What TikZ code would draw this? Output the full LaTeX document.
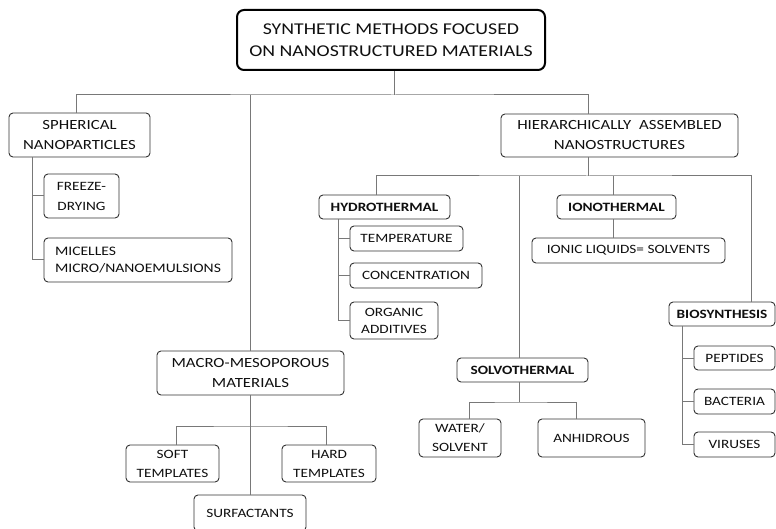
\documentclass[tikz,border=0pt]{standalone}
\usepackage{fontspec}
\setmainfont{Carlito}[FakeStretch=1.2]
\definecolor{linec}{RGB}{120,120,120}
\definecolor{boxc}{RGB}{50,50,50}
\definecolor{txtc}{RGB}{15,15,15}
\begin{document}
\begin{tikzpicture}[x=1pt,y=-1pt,
  box/.style={draw=boxc, line width=0.9pt, rounded corners=4pt, fill=white, inner sep=0pt, text=txtc, align=center},
  topbox/.style={box, draw=black, line width=2pt, rounded corners=7pt, font=\fontsize{16.5}{21.5}\selectfont},
  lvone/.style={box, font=\fontsize{14}{20}\selectfont},
  sub/.style={box, font=\fontsize{12.7}{19}\selectfont},
  bsub/.style={box, font=\bfseries\fontsize{12.7}{18}\selectfont},
  conn/.style={draw=linec, line width=1pt}]
\useasboundingbox (0,0) rectangle (776,529);
% nodes
\node[topbox, minimum width=308pt, minimum height=60pt] (top) at (391,40) {SYNTHETIC METHODS FOCUSED\\ON NANOSTRUCTURED MATERIALS};
\node[lvone, minimum width=141pt, minimum height=44pt] (sph) at (79.5,135) {SPHERICAL\\NANOPARTICLES};
\node[lvone, minimum width=237pt, minimum height=43pt] (hier) at (619.5,135.5) {HIERARCHICALLY\hspace{0.3em} ASSEMBLED\\NANOSTRUCTURES};
\node[sub, minimum width=75pt, minimum height=44pt, font=\fontsize{12.7}{20}\selectfont] (freeze) at (81.5,196) {FREEZE-\\DRYING};
\node[sub, align=left, minimum width=188pt, minimum height=44pt, font=\fontsize{13}{17}\selectfont] (mic) at (138,260) {MICELLES\\MICRO/NANOEMULSIONS};
\node[bsub, minimum width=131pt, minimum height=24pt] (hydro) at (384.5,207) {HYDROTHERMAL};
\node[sub, minimum width=113pt, minimum height=25pt] (temp) at (406.5,238.5) {TEMPERATURE};
\node[sub, minimum width=132pt, minimum height=25pt] (conc) at (416,275.5) {CONCENTRATION};
\node[sub, minimum width=88pt, minimum height=37pt, font=\fontsize{12.7}{17}\selectfont] (org) at (394,320.5) {ORGANIC\\ADDITIVES};
\node[bsub, minimum width=119pt, minimum height=24pt] (iono) at (616.5,207) {IONOTHERMAL};
\node[sub, minimum width=193pt, minimum height=25pt] (ionic) at (628.5,250.5) {IONIC LIQUIDS= SOLVENTS};
\node[lvone, minimum width=187pt, minimum height=44pt] (macro) at (250.5,373) {MACRO-MESOPOROUS\\MATERIALS};
\node[sub, minimum width=93pt, minimum height=37pt] (soft) at (172.5,463.5) {SOFT\\TEMPLATES};
\node[sub, minimum width=94pt, minimum height=37pt] (hard) at (329,463.5) {HARD\\TEMPLATES};
\node[sub, minimum width=112pt, minimum height=36pt] (surf) at (250,513) {SURFACTANTS};
\node[bsub, minimum width=131pt, minimum height=24pt] (solvo) at (522.5,370) {SOLVOTHERMAL};
\node[sub, minimum width=82pt, minimum height=38pt] (water) at (460,438) {WATER/\\SOLVENT};
\node[sub, minimum width=107pt, minimum height=38pt] (anh) at (591.5,438) {ANHIDROUS};
\node[bsub, minimum width=106pt, minimum height=24pt] (bio) at (722,314) {BIOSYNTHESIS};
\node[sub, minimum width=81pt, minimum height=24pt] (pep) at (734.5,358) {PEPTIDES};
\node[sub, minimum width=81pt, minimum height=25pt] (bact) at (734.5,401.5) {BACTERIA};
\node[sub, minimum width=81pt, minimum height=25pt] (vir) at (734.5,444.5) {VIRUSES};
% bus coordinates
\coordinate (b1) at (394,95);
\coordinate (b2) at (588,176);
\coordinate (b3) at (519,402);
\coordinate (b4) at (250,426);
\coordinate (xa) at (76,0);
\coordinate (xm) at (250,0);
\coordinate (xs) at (32,0);
\coordinate (xhy) at (376,0);
\coordinate (xso) at (519,0);
\coordinate (xio) at (613,0);
\coordinate (xbi) at (751,0);
\coordinate (xhb) at (338,0);
\coordinate (xbb) at (682,0);
\coordinate (xw) at (469,0);
\coordinate (xan) at (576,0);
\coordinate (xso2) at (176,0);
\coordinate (xha) at (326,0);
% connectors
\draw[conn] (top.south -| b1) -- (b1);
\draw[conn] (sph.north -| xa) |- (b1) -| (hier.north -| b2);
\draw[conn] (b1 -| xm) -- (macro.north -| xm);
\draw[conn] (sph.south -| xs) |- (freeze.west);
\draw[conn] (sph.south -| xs) |- (mic.west);
\draw[conn] (hier.south -| b2) -- (b2);
\draw[conn] (hydro.north -| xhy) |- (b2) -| (bio.north -| xbi);
\draw[conn] (b2 -| xso) -- (solvo.north -| xso);
\draw[conn] (b2 -| xio) -- (iono.north -| xio);
\draw[conn] (iono.south -| xio) -- (ionic.north -| xio);
\draw[conn] (hydro.south -| xhb) |- (temp.west);
\draw[conn] (hydro.south -| xhb) |- (conc.west);
\draw[conn] (hydro.south -| xhb) |- (org.west);
\draw[conn] (solvo.south -| b3) -- (b3);
\draw[conn] (water.north -| xw) |- (b3) -| (anh.north -| xan);
\draw[conn] (macro.south -| b4) -- (surf.north -| b4);
\draw[conn] (soft.north -| xso2) |- (b4) -| (hard.north -| xha);
\draw[conn] (bio.south -| xbb) |- (pep.west);
\draw[conn] (bio.south -| xbb) |- (bact.west);
\draw[conn] (bio.south -| xbb) |- (vir.west);
\end{tikzpicture}
\end{document}
